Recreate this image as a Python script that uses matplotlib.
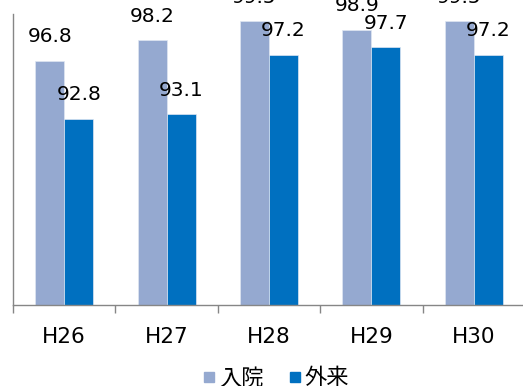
import numpy as np
import matplotlib
matplotlib.use('Agg')
import matplotlib.pyplot as plt
from matplotlib.lines import Line2D

plt.rcParams['font.family'] = ['DejaVu Sans', 'Noto Sans CJK JP']

years = ['H26', 'H27', 'H28', 'H29', 'H30']
inpatient = [96.8, 98.2, 99.5, 98.9, 99.5]
outpatient = [92.8, 93.1, 97.2, 97.7, 97.2]
series_names = ['入院', '外来']
colors = ['#95A9D0', '#0070C0']

fig = plt.figure(figsize=(5.23, 3.86), dpi=100)
ax = fig.add_axes([13/523, 81/386, 512/523, 291/386])

x = np.arange(len(years))
w = 0.283
for vals, off, c in zip([inpatient, outpatient], [-w/2, w/2], colors):
    bars = ax.bar(x + off, vals, w, color=c, edgecolor='#dfe6f2', linewidth=0.5)
    for b, v in zip(bars, vals):
        ax.annotate(f'{v:.1f}', (b.get_x() + b.get_width()/2, v),
                    xytext=(0, 10.5), textcoords='offset points',
                    ha='center', va='bottom', fontsize=14.5,
                    annotation_clip=False)

ax.set_xlim(-0.5, 4.5)
ax.set_ylim(80, 100)
ax.set_yticks([])
ax.set_xticks(x)
ax.set_xticklabels(years, fontsize=15.5)
ax.tick_params(axis='x', which='major', length=0, pad=16)
ax.set_xticks(np.arange(-0.5, 5, 1), minor=True)
ax.tick_params(axis='x', which='minor', length=6, color='#868686', width=1)

for s in ['top', 'right']:
    ax.spines[s].set_visible(False)
for s in ['left', 'bottom']:
    ax.spines[s].set_color('#868686')
    ax.spines[s].set_linewidth(1)

handles = [Line2D([], [], marker='s', linestyle='none', markersize=7.5,
                  markerfacecolor=c, markeredgecolor=c) for c in colors]
fig.legend(handles, series_names, loc='center', bbox_to_anchor=(0.525, 8/386),
           ncol=2, frameon=False, fontsize=16, handletextpad=0.05,
           columnspacing=1.0, handlelength=0.8)

fig.savefig('out.png', dpi=100)
